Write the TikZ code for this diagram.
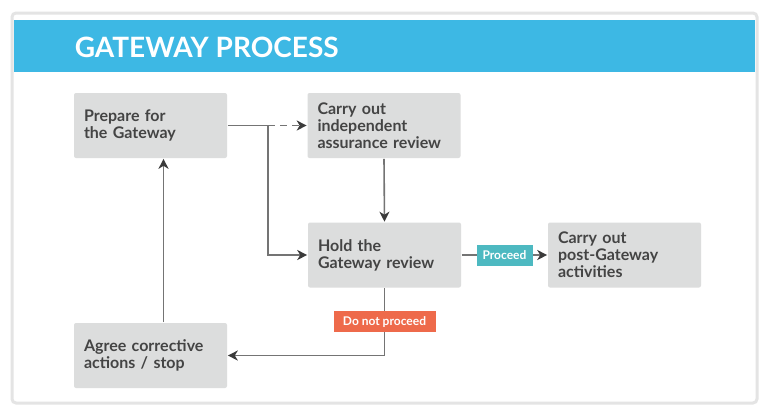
\documentclass[tikz,border=0pt]{standalone}
\usepackage{fontspec}
\setmainfont{Lato}
\usetikzlibrary{arrows.meta}

\definecolor{hdrblue}{HTML}{3DB8E4}
\definecolor{boxgrey}{HTML}{DCDDDD}
\definecolor{txtgrey}{HTML}{444444}
\definecolor{linegrey}{HTML}{747474}
\definecolor{tipgrey}{HTML}{3A3A3A}
\definecolor{goteal}{HTML}{4DB9C1}
\definecolor{stopred}{HTML}{EE6A4B}
\definecolor{cardedge}{HTML}{E4E4E4}

\begin{document}
\begin{tikzpicture}[x=1pt,y=-1pt,->,>={Stealth[length=10pt,width=10pt,inset=3pt,color=tipgrey]},line width=1.6pt,draw=linegrey]
  \tikzstyle{stage}=[draw=none,fill=boxgrey,rounded corners=2pt,minimum width=153pt,minimum height=65pt,
                     text width=133pt,inner xsep=10pt,align=left,text=txtgrey,font=\fontsize{16}{17}\selectfont\bfseries]
  \tikzstyle{tag}=[draw=none,text=white,font=\fontsize{12}{13}\selectfont\bfseries,inner sep=0pt,minimum height=21pt]

  \useasboundingbox (0,0) rectangle (763,410);
  % card and header
  \draw[-,draw=cardedge,line width=3pt,fill=white,rounded corners=4pt] (12,13) rectangle (757,403);
  \fill[hdrblue] (14,20) rectangle (755,72);
  \node[anchor=base west,inner sep=0pt,text=white,font=\fontsize{28}{30}\selectfont\bfseries] (title) at (74,57) {GATEWAY PROCESS};

  \node[stage] (prep)  at (150.5,125.5) {Prepare for\\the Gateway};
  \node[stage] (indep) at (384,125.5)   {Carry out\\independent\\assurance review};
  \node[stage] (hold)  at (384.5,255)   {Hold the\\Gateway review};
  \node[stage] (post)  at (624.5,255)   {Carry out\\post-Gateway\\activities};
  \node[stage] (agree) at (150.5,355.5) {Agree corrective\\actions / stop};

  \coordinate (split) at (268,125.5);

  \draw[-] (prep.east) -- (split);
  \draw[dash pattern=on 7pt off 5pt] (split) -- (indep.west);
  \draw (split) |- (hold.west);
  \draw (indep.south) -- (hold.north);
  \path (hold.east) edge node[tag,fill=goteal,minimum width=56pt] (go) {Proceed} (post.west);
  \draw (hold.south) |- node[pos=0.25,tag,fill=stopred,minimum width=102pt] (nogo) {Do not proceed} (agree.east);
  \draw ([xshift=13pt]agree.north) -- ([xshift=13pt]prep.south);
\end{tikzpicture}
\end{document}
